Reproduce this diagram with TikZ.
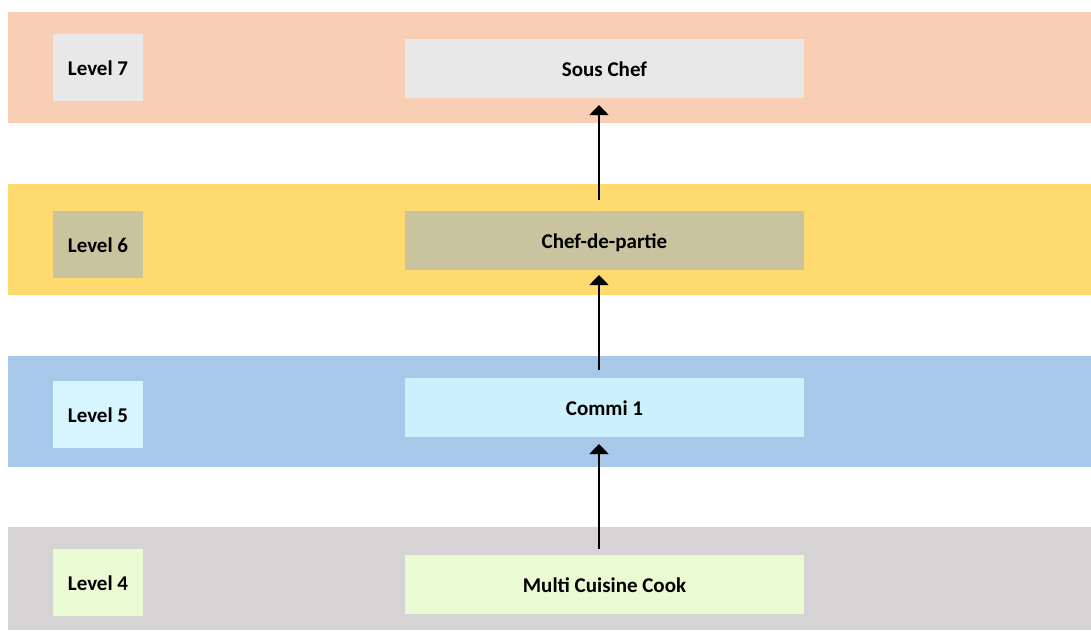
\documentclass[tikz,border=0pt]{standalone}
\usepackage{fontspec}
\setmainfont{Carlito}
\usetikzlibrary{arrows.meta}

\definecolor{bandpeach}{HTML}{F8CFB5}
\definecolor{bandyellow}{HTML}{FFDB6F}
\definecolor{bandblue}{HTML}{A7C8E9}
\definecolor{bandgray}{HTML}{D5D3D4}
\definecolor{boxgray}{HTML}{E8E8E8}
\definecolor{boxkhaki}{HTML}{C9C39F}
\definecolor{boxcyan}{HTML}{CCF0FC}
\definecolor{boxcyanlt}{HTML}{D6F5FE}
\definecolor{boxlime}{HTML}{EAFAD3}

\tikzset{
  band/.style={inner sep=0pt, outer sep=0pt, minimum width=1083pt, minimum height=111pt, anchor=north west},
  boxtext/.style={inner sep=0pt, outer sep=0pt, text height=16.5pt, text depth=0pt,
    font=\fontsize{21}{24}\selectfont\bfseries},
  levelbox/.style={boxtext, minimum width=90pt, minimum height=67pt},
  rolebox/.style={boxtext, minimum width=399pt, minimum height=59pt},
  promote/.style={line width=1.8pt, -{Triangle[width=19pt,length=10pt]}}
}

\begin{document}
\begin{tikzpicture}[x=1pt,y=-1pt]
  \useasboundingbox (0,0) rectangle (1091,630);

  % level bands
  \node[band, fill=bandpeach]  (b7) at (8,12)  {};
  \node[band, fill=bandyellow] (b6) at (8,184) {};
  \node[band, fill=bandblue]   (b5) at (8,356) {};
  \node[band, fill=bandgray, minimum height=103pt] (b4) at (8,527) {};

  % level labels
  \node[levelbox, fill=boxgray]   (l7) at (98,67.5)  {Level 7};
  \node[levelbox, fill=boxkhaki]  (l6) at (98,244.5) {Level 6};
  \node[levelbox, fill=boxcyanlt] (l5) at (98,414.5) {Level 5};
  \node[levelbox, fill=boxlime]   (l4) at (98,582.5) {Level 4};

  % roles
  \node[rolebox, fill=boxgray]  (sous)  at (604.5,68.5)  {Sous Chef};
  \node[rolebox, fill=boxkhaki] (chef)  at (604.5,240.5) {Chef-de-partie};
  \node[rolebox, fill=boxcyan]  (commi) at (604.5,407.5) {Commi 1};
  \node[rolebox, fill=boxlime]  (multi) at (604.5,584.5) {Multi Cuisine Cook};

  % promotion path
  \draw[promote] ([xshift=-5.5pt,yshift=6pt]multi.north)  -- ([xshift=-5.5pt,yshift=-7pt]commi.south);
  \draw[promote] ([xshift=-5.5pt,yshift=8pt]commi.north)  -- ([xshift=-5.5pt,yshift=-5pt]chef.south);
  \draw[promote] ([xshift=-5.5pt,yshift=11pt]chef.north)  -- ([xshift=-5.5pt,yshift=-7pt]sous.south);
\end{tikzpicture}
\end{document}
